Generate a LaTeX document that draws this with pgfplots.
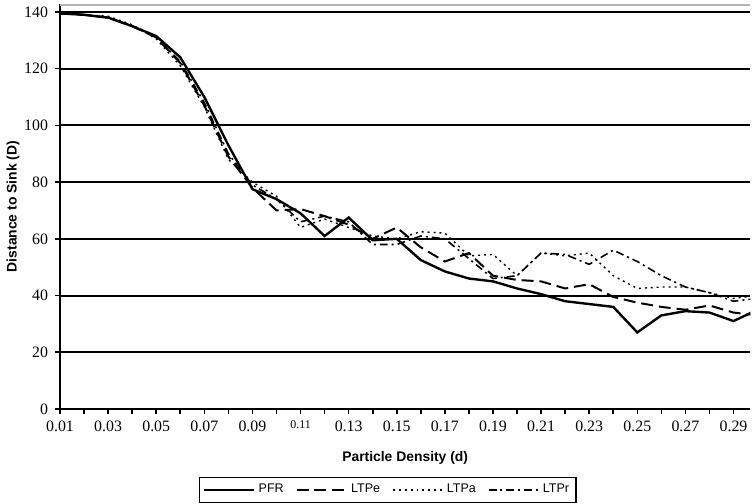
\documentclass[border=0pt]{standalone}
\usepackage{pgfplots}
\usepackage{pgfplotstable}
\pgfplotsset{compat=1.18}
\usepackage{fontspec}
\setmainfont{Liberation Serif}
\setsansfont{Liberation Sans}

% distance to sink vs particle density
\pgfplotstableread{
d     PFR   LTPe  LTPa  LTPr
0.01  139.5 139.5 139.5 139.5
0.02  139   139   139   139
0.03  138   138   138.5 138
0.04  135   135   135.5 135
0.05  131.5 131   130.5 131
0.06  124   122   121   122.5
0.07  110   107   106.5 108
0.08  93    89    88    90
0.09  77.5  78    80    79
0.10  74    70    75    74
0.11  69    70.5  64    66
0.12  61    68    67    68
0.13  67.5  65    64    66
0.14  59.5  60    61    58
0.15  60    64    60    58
0.16  52.5  57    62.5  61
0.17  48.5  52    62    60
0.18  46    55    54    53
0.19  45    47    54.5  46
0.20  42.5  45.5  47    47
0.21  40.5  45    55    55
0.22  38    42.5  54    54.5
0.23  37    44    55    51
0.24  36    39.5  47    56
0.25  27    37.5  42.5  52
0.26  33    36    43    47
0.27  34.5  35    43    43
0.28  34    36.5  41    41
0.29  31    34    39    38
0.30  35    33    40    39
}\data

\begin{document}
\begin{tikzpicture}
\begin{axis}[
    scale only axis,
    width=348pt, height=204pt,
    xmin=0.01, xmax=0.297,
    ymin=0, ymax=142.7,
    axis x line*=bottom, axis y line*=left,
    axis line style={black, line width=1.2pt},
    xtick={0.01,0.02,0.03,0.04,0.05,0.06,0.07,0.08,0.09,0.10,0.11,0.12,0.13,0.14,0.15,
           0.16,0.17,0.18,0.19,0.20,0.21,0.22,0.23,0.24,0.25,0.26,0.27,0.28,0.29,0.30},
    xticklabels={0.01,,0.03,,0.05,,0.07,,0.09,,{\fontsize{6}{7}\selectfont 0.11},,0.13,,0.15,,
                 0.17,,0.19,,0.21,,0.23,,0.25,,0.27,,0.29,},
    ytick={0,20,...,140},
    ymajorgrids,
    grid style={black, line width=1pt},
    tick align=outside,
    major tick length=2.5pt,
    tick style={black, line width=0.8pt},
    ticklabel style={font=\fontsize{8}{9}\selectfont},
    /pgf/number format/assume math mode=true,
    xlabel={Particle Density (d)},
    ylabel={Distance to Sink (D)},
    label style={font=\sffamily\bfseries\fontsize{7}{8}\selectfont},
    xlabel style={at={(axis description cs:0.5,-0.12)}, anchor=center},
    ylabel style={at={(axis description cs:-0.068,0.5)}, anchor=center},
    legend style={at={(axis description cs:0.475,-0.2)}, anchor=center,
        draw=black, line width=0.6pt, font=\sffamily\fontsize{6.3}{7}\selectfont,
        legend columns=4, inner sep=1.5pt,
        /tikz/every even column/.append style={column sep=4pt}},
    legend image code/.code={\draw[#1] (0pt,0pt) -- (25pt,0pt);},
]
\addplot[black, line width=1.2pt] table[x=d, y=PFR] {\data};
\addplot[black, line width=1pt, dash pattern=on 6pt off 3pt] table[x=d, y=LTPe] {\data};
\addplot[black, line width=0.7pt, dash pattern=on 1pt off 2pt] table[x=d, y=LTPa] {\data};
\addplot[black, line width=0.8pt, dash pattern=on 4pt off 2pt on 1pt off 2pt] table[x=d, y=LTPr] {\data};
\legend{PFR, LTPe, LTPa, LTPr}
\draw[gray!60, line width=1.5pt] (rel axis cs:0,1) -- (rel axis cs:1,1);
\end{axis}
\end{tikzpicture}
\end{document}
